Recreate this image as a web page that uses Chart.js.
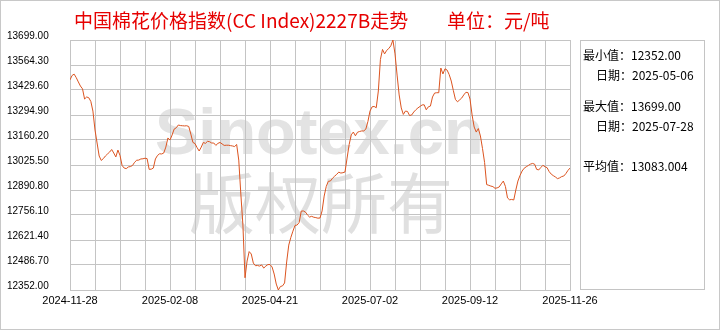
<!DOCTYPE html>
<html>
<head>
<meta charset="utf-8">
<script src="https://cdn.jsdelivr.net/npm/chart.js@4/dist/chart.umd.min.js"></script>
<style>
  html, body { margin: 0; padding: 0; background: #fff; }
  #wrap { width: 720px; height: 330px; }
</style>
</head>
<body>
<div id="wrap"><canvas id="cottonChart" width="720" height="330"></canvas></div>
<script>
// 价格数据（按交易日序号）
const prices = [
  13484, 13508, 13515, 13496, 13473, 13451, 13436, 13381, 13392, 13388,
  13368, 13316, 13214, 13144, 13074, 13050, 13060, 13074, 13085, 13095,
  13109, 13090, 13069, 13106, 13077, 13023, 13009, 13006, 13015, 13017,
  13023, 13040, 13051, 13052, 13058, 13059, 13062, 13060, 13002, 13003,
  13009, 13058, 13077, 13086, 13085, 13090, 13122, 13171, 13160, 13187,
  13219, 13226, 13241, 13238, 13237, 13236, 13237, 13233, 13192, 13147,
  13141, 13119, 13101, 13122, 13147, 13142, 13153, 13151, 13144, 13144,
  13131, 13142, 13147, 13139, 13131, 13132, 13132, 13130, 13128, 13125,
  13136, 13052, 12869, 12702, 12418, 12508, 12559, 12546, 12497, 12483,
  12484, 12481, 12487, 12470, 12481, 12489, 12489, 12476, 12438, 12384,
  12352, 12371, 12374, 12390, 12503, 12594, 12635, 12669, 12700, 12702,
  12716, 12777, 12778, 12772, 12756, 12745, 12749, 12744, 12742, 12739,
  12740, 12778, 12858, 12910, 12938, 12939, 12954, 12965, 12975, 12987,
  12982, 12984, 12988, 13063, 13136, 13188, 13203, 13183, 13202, 13206,
  13209, 13209, 13219, 13260, 13316, 13339, 13341, 13334, 13424, 13594,
  13648, 13624, 13643, 13653, 13668, 13699, 13624, 13510, 13403, 13333,
  13298, 13316, 13314, 13292, 13295, 13311, 13323, 13333, 13341, 13349,
  13350, 13323, 13339, 13343, 13392, 13413, 13415, 13415, 13548, 13516,
  13544, 13537, 13513, 13478, 13427, 13379, 13366, 13376, 13386, 13403,
  13417, 13416, 13381, 13295, 13230, 13203, 13222, 13182, 13114, 13039,
  12920, 12916, 12912, 12909, 12900, 12902, 12907, 12924, 12939, 12910,
  12848, 12838, 12840, 12837, 12891, 12939, 12969, 12993, 13008, 13016,
  13023, 13030, 13034, 13030, 13002, 12999, 13012, 13024, 13016, 13011,
  12990, 12976, 12968, 12961, 12952, 12956, 12963, 12966, 12979, 12996,
  13009
];
const dayIndex = prices.map((_, i) => i);

// 横轴日期标签（每 48 个交易日一个）
const xTickLabels = ['2024-11-28', '2025-02-08', '2025-04-21', '2025-07-02', '2025-09-12', '2025-11-26'];
// 纵轴刻度
const yTickValues = [12352.00, 12486.70, 12621.40, 12756.10, 12890.80, 13025.50,
                     13160.20, 13294.90, 13429.60, 13564.30, 13699.00];

// 右侧统计
const statLabels = ['最小值：', '日期：', '最大值：', '日期：', '平均值：'];
const statValues = ['12352.00', '2025-05-06', '13699.00', '2025-07-28', '13083.004'];

const GRID = '#c4c4c4';
const LAST_DAY = dayIndex[dayIndex.length - 1];
const LABEL_STEP = LAST_DAY / (xTickLabels.length - 1);

// 背景、水印、标题、右侧面板
const decorPlugin = {
  id: 'decor',
  beforeDraw(chart) {
    const c = chart.ctx;
    c.save();
    c.fillStyle = '#fff';
    c.fillRect(0, 0, chart.width, chart.height);
    c.fillStyle = '#e3e3e3';
    c.textBaseline = 'alphabetic';
    c.font = 'bold 65px "Liberation Sans", Arial, sans-serif';
    c.fillText('Sinotex.cn', 155, 154);
    c.fillStyle = '#e0e0e0';
    c.font = '66px "Noto Sans CJK SC", sans-serif';
    c.fillText('版权所有', 189, 228);
    c.restore();
  },
  afterDraw(chart) {
    const c = chart.ctx;
    c.save();
    // 标题
    c.fillStyle = '#e60000';
    c.textBaseline = 'middle';
    c.font = '19px "Noto Sans CJK SC", sans-serif';
    c.fillText('中国棉花价格指数(CC Index)2227B走势', 74, 21);
    c.fillText('单位：元/吨', 447, 21);

    // 右侧面板
    c.strokeStyle = GRID;
    c.lineWidth = 1;
    c.strokeRect(580.5, 40.5, 124, 249);
    c.fillStyle = '#000';
    c.font = '12px "Noto Sans CJK SC", sans-serif';
    const rows = [[583, 55], [596, 75], [583, 106], [596, 126], [583, 166]];
    rows.forEach(function (r, i) {
      c.fillText(statLabels[i] + statValues[i], r[0], r[1]);
    });

    // 外框
    c.strokeStyle = '#c8c8c8';
    c.strokeRect(0.5, 0.5, chart.width - 1, chart.height - 1);
    c.restore();
  }
};

const ctx = document.getElementById('cottonChart').getContext('2d');
new Chart(ctx, {
  type: 'line',
  data: {
    datasets: [{
      data: prices.map((p, i) => ({ x: dayIndex[i], y: p })),
      borderColor: '#dc5420',
      borderWidth: 1,
      pointRadius: 0,
      tension: 0,
      fill: false
    }]
  },
  options: {
    responsive: false,
    animation: false,
    devicePixelRatio: 1,
    layout: { padding: { left: 7, right: 150, top: 40, bottom: 0 } },
    plugins: {
      legend: { display: false },
      tooltip: { enabled: false }
    },
    scales: {
      x: {
        type: 'linear',
        min: 0,
        max: LAST_DAY,
        afterBuildTicks: function (scale) {
          const t = [];
          for (let v = 0; v <= LAST_DAY; v += LABEL_STEP / 4) t.push({ value: v });
          scale.ticks = t;
        },
        afterFit: function (scale) { scale.height = 40; },
        grid: { color: GRID, lineWidth: 1, drawTicks: false },
        border: { color: GRID },
        ticks: {
          autoSkip: false,
          maxRotation: 0,
          padding: 4,
          color: '#000',
          font: { family: '"Liberation Sans", Arial, sans-serif', size: 11 },
          callback: function (value) {
            const k = value / LABEL_STEP;
            return Number.isInteger(k) ? xTickLabels[k] : '';
          }
        }
      },
      y: {
        min: yTickValues[0],
        max: yTickValues[yTickValues.length - 1],
        afterBuildTicks: function (scale) {
          scale.ticks = yTickValues.map(v => ({ value: v }));
        },
        afterFit: function (scale) { scale.width = 63; },
        grid: { color: GRID, lineWidth: 1, drawTicks: false },
        border: { color: GRID },
        ticks: {
          crossAlign: 'far',
          labelOffset: -4,
          padding: 0,
          color: '#000',
          font: { family: '"Liberation Sans", Arial, sans-serif', size: 10 },
          callback: function (value) { return Number(value).toFixed(2); }
        }
      }
    }
  },
  plugins: [decorPlugin]
});
</script>
</body>
</html>
